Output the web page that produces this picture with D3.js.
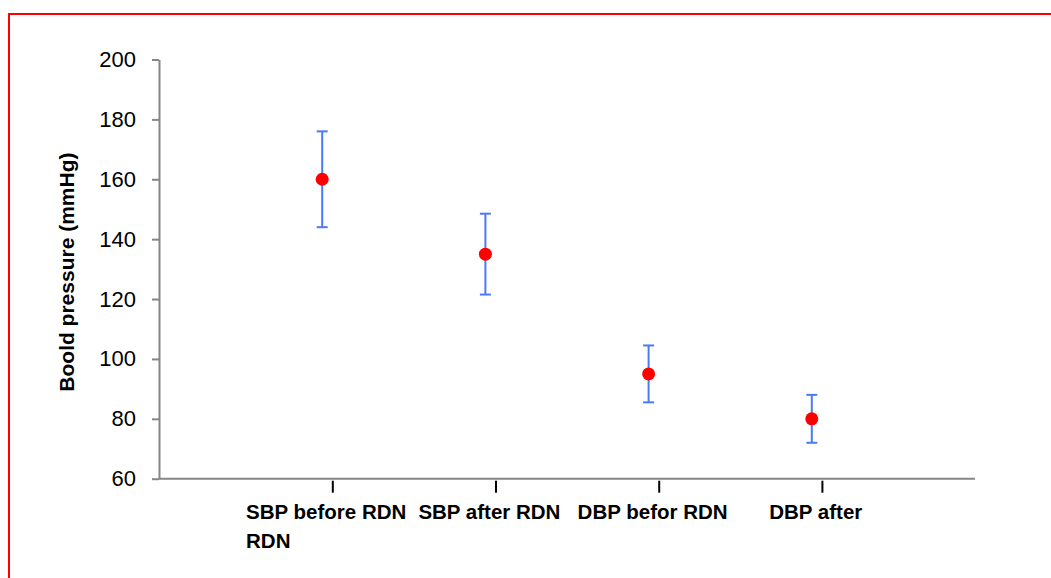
<!DOCTYPE html>
<html lang="en">
<head>
  <meta charset="utf-8">
  <title>Blood pressure before and after RDN</title>
  <script src="https://d3js.org/d3.v7.min.js"></script>
  <style>
    * { margin: 0; padding: 0; }
    html, body { width: 1051px; height: 578px; background: #fff; overflow: hidden; }
    svg { display: block; font-family: "Liberation Sans", Arial, sans-serif; }
  </style>
</head>
<body>
  <svg id="chart" width="1051" height="578"></svg>

  <script>
  // data
  const categories = [["SBP before RDN", "RDN"], ["SBP after RDN"], ["DBP befor RDN"], ["DBP after"]];
  const means      = [160, 135, 95, 80];
  const errors     = [16, 13.5, 9.5, 8];
  const yTicks     = [60, 80, 100, 120, 140, 160, 180, 200];
  const yLabel     = "Boold pressure (mmHg)";

  (function() {
    const svg = d3.select("#chart");

    // red frame round the figure
    svg.append("rect")
      .attr("x", 9).attr("y", 14)
      .attr("width", 1100).attr("height", 600)
      .attr("fill", "none").attr("stroke", "#ff0000").attr("stroke-width", 2);

    const plotLeft = 159, plotRight = 975, plotTop = 59.5, plotBottom = 478.7;

    const x = d3.scaleLinear().domain([0, categories.length + 1]).range([plotLeft, plotRight]);
    const y = d3.scaleLinear().domain([60, 200]).range([plotBottom, plotTop]);

    // y axis
    const yAxis = svg.append("g")
      .attr("transform", `translate(${plotLeft},0)`)
      .call(d3.axisLeft(y).tickValues(yTicks).tickSize(7).tickPadding(16).tickSizeOuter(0));
    yAxis.select(".domain").attr("stroke", "#868686").attr("stroke-width", 2);
    yAxis.selectAll(".tick line").attr("stroke", "#868686").attr("stroke-width", 2);
    yAxis.selectAll(".tick text")
      .attr("font-size", 22).attr("fill", "#000")
      .attr("font-family", "Liberation Sans, Arial, sans-serif");

    // x axis line
    svg.append("line")
      .attr("x1", plotLeft).attr("x2", plotRight)
      .attr("y1", y(60)).attr("y2", y(60))
      .attr("stroke", "#868686").attr("stroke-width", 2);

    // category tick marks (sit a little right of the points, as in the original)
    svg.append("g").selectAll("line")
      .data(categories)
      .join("line")
        .attr("x1", (d, i) => x(i + 1.065)).attr("x2", (d, i) => x(i + 1.065))
        .attr("y1", y(60) + 2).attr("y2", y(60) + 14)
        .attr("stroke", "#000").attr("stroke-width", 2);

    // category labels
    const labels = svg.append("g").selectAll("text")
      .data(categories)
      .join("text")
        .attr("x", (d, i) => x(i + 1) + 4)
        .attr("y", 519)
        .attr("text-anchor", "middle")
        .attr("font-size", 20.5).attr("font-weight", "bold").attr("fill", "#000")
        .text(d => d[0]);

    // wrapped second lines, left aligned under the first line
    labels.each(function(d) {
      if (d.length < 2) return;
      const bb = this.getBBox();
      d3.select(this.parentNode).append("text")
        .attr("x", bb.x).attr("y", 548)
        .attr("font-size", 20.5).attr("font-weight", "bold").attr("fill", "#000")
        .text(d[1]);
    });

    // y axis title
    svg.append("text")
      .attr("transform", `translate(74,${(plotTop + plotBottom) / 2 + 3}) rotate(-90)`)
      .attr("text-anchor", "middle")
      .attr("font-size", 21).attr("font-weight", "bold").attr("fill", "#000")
      .text(yLabel);

    // error bars
    const bars = svg.append("g").selectAll("g")
      .data(means)
      .join("g")
        .attr("stroke", "#4a7bf7").attr("stroke-width", 2);

    bars.append("line")
      .attr("x1", (d, i) => x(i + 1)).attr("x2", (d, i) => x(i + 1))
      .attr("y1", (d, i) => y(d + errors[i])).attr("y2", (d, i) => y(d - errors[i]));
    bars.append("line")
      .attr("x1", (d, i) => x(i + 1) - 5.5).attr("x2", (d, i) => x(i + 1) + 5.5)
      .attr("y1", (d, i) => y(d + errors[i])).attr("y2", (d, i) => y(d + errors[i]));
    bars.append("line")
      .attr("x1", (d, i) => x(i + 1) - 5.5).attr("x2", (d, i) => x(i + 1) + 5.5)
      .attr("y1", (d, i) => y(d - errors[i])).attr("y2", (d, i) => y(d - errors[i]));

    // mean markers
    svg.append("g").selectAll("circle")
      .data(means)
      .join("circle")
        .attr("cx", (d, i) => x(i + 1))
        .attr("cy", d => y(d))
        .attr("r", 6.5)
        .attr("fill", "#ff0000");
  })();
  </script>
</body>
</html>
